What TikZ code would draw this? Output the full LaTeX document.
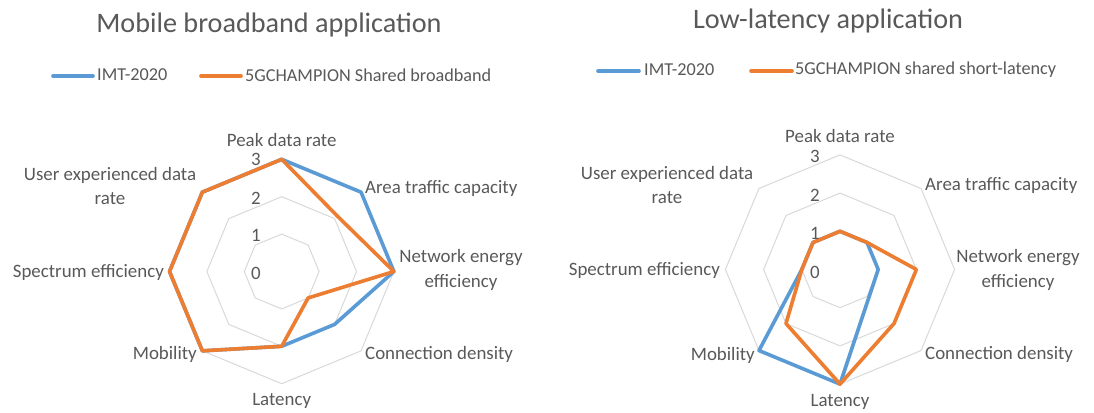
\documentclass[tikz,border=0pt]{standalone}
\usepackage{fontspec}
\setmainfont{Carlito}
\definecolor{imtblue}{HTML}{5B9BD5}
\definecolor{champorange}{HTML}{ED7D31}
\definecolor{gridgray}{HTML}{D9D9D9}
\definecolor{labelgray}{HTML}{595959}

% one closed series polygon over the eight axes (clockwise from the top)
\newcommand\radarpath[9]{%
  \draw[#1] (90:{#2*\ru}) -- (45:{#3*\ru}) -- (0:{#4*\ru}) -- (-45:{#5*\ru})
    -- (-90:{#6*\ru}) -- (-135:{#7*\ru}) -- (180:{#8*\ru}) -- (135:{#9*\ru}) -- cycle;}

% concentric octagons for the levels 1, 2 and 3
\newcommand\radargrid{%
  \foreach \lvl in {1,2,3}{
    \draw[gridline] (90:{\lvl*\ru}) -- (45:{\lvl*\ru}) -- (0:{\lvl*\ru}) -- (-45:{\lvl*\ru})
      -- (-90:{\lvl*\ru}) -- (-135:{\lvl*\ru}) -- (180:{\lvl*\ru}) -- (135:{\lvl*\ru}) -- cycle;}}

\tikzset{
  every node/.style={inner sep=0pt, text=labelgray},
  axislabel/.style={font=\fontsize{18.9}{24.5}\selectfont},
  ticklabel/.style={font=\fontsize{18.9}{22}\selectfont},
  charttitle/.style={font=\fontsize{28.2}{32}\selectfont},
  legendtext/.style={font=\fontsize{18.2}{22}\selectfont, anchor=west},
  gridline/.style={draw=gridgray, line width=1pt},
  imtseries/.style={draw=imtblue, line width=3.6pt, line join=round},
  champseries/.style={draw=champorange, line width=3.6pt, line join=round},
  legendimt/.style={draw=imtblue, line width=3.6pt, line cap=round},
  legendchamp/.style={draw=champorange, line width=3.6pt, line cap=round},
}

\begin{document}
\begin{tikzpicture}[x=1pt, y=-1pt]
\useasboundingbox[fill=white] (0,0) rectangle (1094,412);

% ---------------- Mobile broadband application ----------------
\node[charttitle] (titleA) at (269,25) {Mobile broadband application};
\coordinate (legA1s) at (53,76);  \coordinate (legA1e) at (93,76);
\coordinate (legA2s) at (201,76); \coordinate (legA2e) at (241,76);
\draw[legendimt] (legA1s) -- (legA1e);
\draw[legendchamp] (legA2s) -- (legA2e);
\node[legendtext] (legA1) at (97,75) {IMT-2020};
\node[legendtext] (legA2) at (245,75) {5GCHAMPION Shared broadband};

\begin{scope}[shift={(281.7pt,-271.5pt)}, x=1pt, y=1pt]
  \def\ru{37.4}
  \radargrid
  \radarpath{imtseries}{3}{3}{3}{2}{2}{3}{3}{3}
  \radarpath{champseries}{3}{2.1}{3}{1}{2}{3}{3}{3}
\end{scope}

\node[ticklabel] (tA3) at (256,159.5) {3};
\node[ticklabel] (tA2) at (256,198) {2};
\node[ticklabel] (tA1) at (256,235) {1};
\node[ticklabel] (tA0) at (256,273) {0};

\node[axislabel] (pA) at (281.7,140) {Peak data rate};
\node[axislabel, anchor=west] (aA) at (365,188) {Area traffic capacity};
\node[axislabel, align=center] (nA) at (461,270) {Network energy\\efficiency};
\node[axislabel, anchor=west] (cA) at (365,354) {Connection density};
\node[axislabel] (lA) at (281.7,401) {Latency};
\node[axislabel, anchor=east] (mA) at (197,354) {Mobility};
\node[axislabel, anchor=east] (sA) at (164,272) {Spectrum efficiency};
\node[axislabel, align=center] (uA) at (110,186) {User experienced data\\rate};

% ---------------- Low-latency application ----------------
\node[charttitle] (titleB) at (828,21) {Low-latency application};
\coordinate (legB1s) at (598,71); \coordinate (legB1e) at (639,71);
\coordinate (legB2s) at (751,71); \coordinate (legB2e) at (792,71);
\draw[legendimt] (legB1s) -- (legB1e);
\draw[legendchamp] (legB2s) -- (legB2e);
\node[legendtext] (legB1) at (644,70) {IMT-2020};
\node[legendtext] (legB2) at (795,70) {5GCHAMPION shared short-latency};

\begin{scope}[shift={(840pt,-269.5pt)}, x=1pt, y=1pt]
  \def\ru{38.2}
  \radargrid
  \radarpath{imtseries}{1}{1}{1}{1.06}{3}{3}{1}{1}
  \radarpath{champseries}{1}{1}{2}{2}{3}{2}{1}{1}
\end{scope}

\node[ticklabel] (tB3) at (815,156) {3};
\node[ticklabel] (tB2) at (815,195) {2};
\node[ticklabel] (tB1) at (815,233) {1};
\node[ticklabel] (tB0) at (815,272) {0};

\node[axislabel] (pB) at (840,136.5) {Peak data rate};
\node[axislabel, anchor=west] (aB) at (925,185) {Area traffic capacity};
\node[axislabel, align=center] (nB) at (1018,270) {Network energy\\efficiency};
\node[axislabel, anchor=west] (cB) at (925,354) {Connection density};
\node[axislabel] (lB) at (840,402) {Latency};
\node[axislabel, anchor=east] (mB) at (755,355) {Mobility};
\node[axislabel, anchor=east] (sB) at (720,270) {Spectrum efficiency};
\node[axislabel, align=center] (uB) at (667,185) {User experienced data\\rate};
\end{tikzpicture}
\end{document}
